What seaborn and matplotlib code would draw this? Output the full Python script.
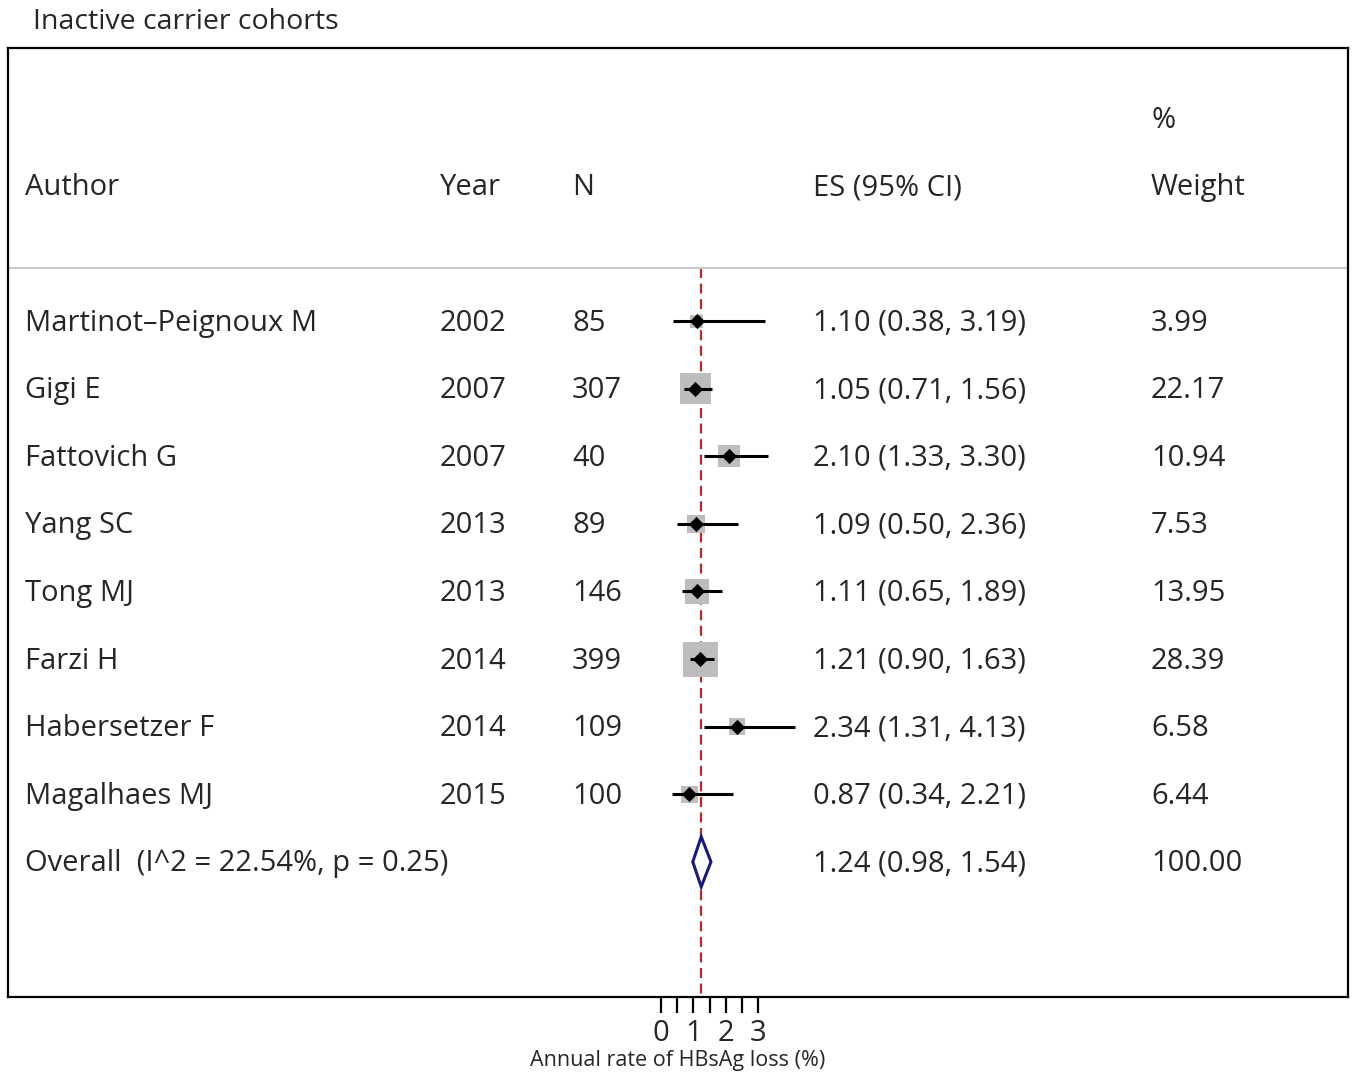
import numpy as np
import pandas as pd
import matplotlib
matplotlib.use("Agg")
import matplotlib.pyplot as plt
import seaborn as sns

# study data
authors = ["Martinot\u2013Peignoux M", "Gigi E", "Fattovich G", "Yang SC",
           "Tong MJ", "Farzi H", "Habersetzer F", "Magalhaes MJ"]
years = [2002, 2007, 2007, 2013, 2013, 2014, 2014, 2015]
n_pat = [85, 307, 40, 89, 146, 399, 109, 100]
es = [1.10, 1.05, 2.10, 1.09, 1.11, 1.21, 2.34, 0.87]
ci_lo = [0.38, 0.71, 1.33, 0.50, 0.65, 0.90, 1.31, 0.34]
ci_hi = [3.19, 1.56, 3.30, 2.36, 1.89, 1.63, 4.13, 2.21]
weights = [3.99, 22.17, 10.94, 7.53, 13.95, 28.39, 6.58, 6.44]

overall_label = "Overall  (I^2 = 22.54%, p = 0.25)"
overall_es, overall_lo, overall_hi = 1.24, 0.98, 1.54

xticks = [0, 0.5, 1, 1.5, 2, 2.5, 3]
xticklabels = ["0", "", "1", "", "2", "", "3"]

sns.set_style("white")
plt.rcParams["font.family"] = ["Open Sans", "DejaVu Sans"]

df = pd.DataFrame({"author": authors, "year": years, "n": n_pat, "es": es,
                   "lo": ci_lo, "hi": ci_hi, "w": weights})
df["row"] = np.arange(len(df))
n_rows = len(df)

fig = plt.figure(figsize=(13.52, 10.83), dpi=100)
ax = fig.add_axes([8 / 1352, 1 - 997 / 1083, 1340 / 1352, 949 / 1083])

# gray weight boxes
sns.scatterplot(data=df, x="es", y="row", marker="s", s=df["w"] * 22.4,
                color="#bdbdbd", linewidth=0, ax=ax, zorder=2)
# confidence intervals
ax.hlines(df["row"], df["lo"], df["hi"], color="black", lw=2.2, zorder=3)
# point estimates
sns.scatterplot(data=df, x="es", y="row", marker="D", s=60, color="black",
                linewidth=0, ax=ax, zorder=4)

# overall diamond
y_ov = n_rows
h = 0.37
ax.fill([overall_lo, overall_es, overall_hi, overall_es, overall_lo],
        [y_ov, y_ov - h, y_ov, y_ov + h, y_ov],
        facecolor="white", edgecolor="#1a1a7a", lw=2.2, zorder=4)

ax.set_xlim(-20.1, 21.15)
ax.set_ylim(10.0, -4.04)

# reference line at the pooled estimate
ax.plot([overall_es, overall_es], [-0.78, 10.0], color="#b22a2a", lw=1.6,
        ls=(0, (4.5, 2.5)), zorder=1)
# header separator
ax.axhline(-0.78, color="#c8c8c8", lw=1.6, zorder=1)

# text columns (axes fraction for x)
col_author, col_year, col_n, col_es, col_w = 0.0127, 0.322, 0.421, 0.601, 0.853
fs = 21
tr = ax.get_yaxis_transform()
for col, txt in [(col_author, "Author"), (col_year, "Year"), (col_n, "N"),
                 (col_es, "ES (95% CI)"), (col_w, "Weight")]:
    ax.text(col, -1.97, txt, transform=tr, fontsize=fs, va="center", ha="left")
ax.text(col_w, -2.97, "%", transform=tr, fontsize=fs, va="center", ha="left")

for _, r in df.iterrows():
    y = r["row"] + 0.03
    ax.text(col_author, y, r["author"], transform=tr, fontsize=fs, va="center")
    ax.text(col_year, y, f"{int(r['year'])}", transform=tr, fontsize=fs, va="center")
    ax.text(col_n, y, f"{int(r['n'])}", transform=tr, fontsize=fs, va="center")
    ax.text(col_es, y, f"{r['es']:.2f} ({r['lo']:.2f}, {r['hi']:.2f})",
            transform=tr, fontsize=fs, va="center")
    ax.text(col_w, y, f"{r['w']:.2f}", transform=tr, fontsize=fs, va="center")

ax.text(col_author, y_ov + 0.03, overall_label, transform=tr, fontsize=fs, va="center")
ax.text(col_es, y_ov + 0.03, f"{overall_es:.2f} ({overall_lo:.2f}, {overall_hi:.2f})",
        transform=tr, fontsize=fs, va="center")
ax.text(col_w, y_ov + 0.03, "100.00", transform=tr, fontsize=fs, va="center")

# axes styling
ax.set_yticks([])
ax.set_xticks(xticks)
ax.set_xticklabels(xticklabels, fontsize=21)
ax.tick_params(axis="x", direction="out", length=11.5, width=1.6, pad=4,
               bottom=True, color="black")
ax.set_xlabel("Annual rate of HBsAg loss (%)", fontsize=15.5, labelpad=2)
ax.set_ylabel("")
for sp in ax.spines.values():
    sp.set_visible(True)
    sp.set_color("black")
    sp.set_linewidth(1.6)

fig.text(33 / 1352, 1 - 22 / 1083, "Inactive carrier cohorts", fontsize=20.5,
         va="center", ha="left")

fig.savefig("out.png", dpi=100)
